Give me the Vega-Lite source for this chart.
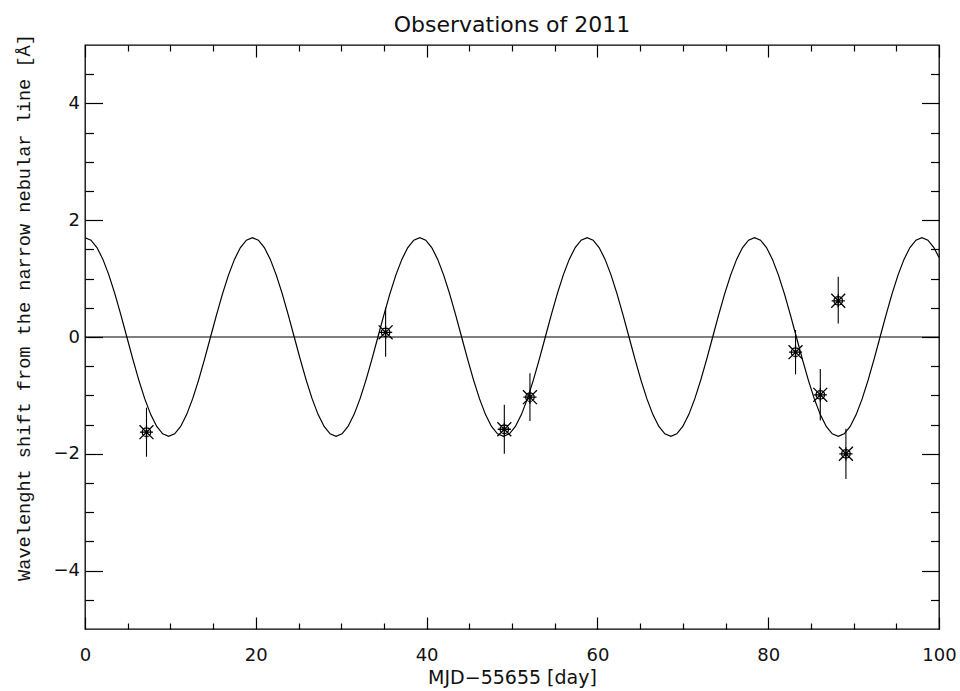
{
  "$schema": "https://vega.github.io/schema/vega-lite/v6.json",
  "width": 854,
  "height": 584,
  "autosize": "none",
  "padding": {"left": 85, "top": 45, "right": 21, "bottom": 62},
  "background": "white",
  "config": {
    "view": {"stroke": "black", "strokeWidth": 1.3},
    "axis": {"grid": false, "domain": false, "tickColor": "black", "tickWidth": 1.2, "labelColor": "#111", "titleColor": "#111", "labelFont": "DejaVu Sans", "labelFontSize": 18, "labelFlush": false, "labelOverlap": false}
  },
  "title": {"text": "Observations of 2011", "font": "DejaVu Sans", "fontSize": 22, "fontWeight": "normal", "color": "#111", "anchor": "middle", "offset": -3},
  "datasets": {
    "curve": [
      {"d":0,"w":1.7},{"d":0.7,"w":1.657},{"d":1.4,"w":1.532},{"d":2.1,"w":1.329},{"d":2.8,"w":1.06},{"d":3.5,"w":0.738},{"d":4.2,"w":0.378},{"d":4.9,"w":0},{"d":5.6,"w":-0.378},{"d":6.3,"w":-0.738},{"d":7,"w":-1.06},{"d":7.7,"w":-1.329},{"d":8.4,"w":-1.532},{"d":9.1,"w":-1.657},{"d":9.8,"w":-1.7},{"d":10.5,"w":-1.657},{"d":11.2,"w":-1.532},{"d":11.9,"w":-1.329},{"d":12.6,"w":-1.06},{"d":13.3,"w":-0.738},{"d":14,"w":-0.378},{"d":14.7,"w":0},{"d":15.4,"w":0.378},{"d":16.1,"w":0.738},{"d":16.8,"w":1.06},{"d":17.5,"w":1.329},{"d":18.2,"w":1.532},{"d":18.9,"w":1.657},
      {"d":19.6,"w":1.7},{"d":20.3,"w":1.657},{"d":21,"w":1.532},{"d":21.7,"w":1.329},{"d":22.4,"w":1.06},{"d":23.1,"w":0.738},{"d":23.8,"w":0.378},{"d":24.5,"w":0},{"d":25.2,"w":-0.378},{"d":25.9,"w":-0.738},{"d":26.6,"w":-1.06},{"d":27.3,"w":-1.329},{"d":28,"w":-1.532},{"d":28.7,"w":-1.657},{"d":29.4,"w":-1.7},{"d":30.1,"w":-1.657},{"d":30.8,"w":-1.532},{"d":31.5,"w":-1.329},{"d":32.2,"w":-1.06},{"d":32.9,"w":-0.738},{"d":33.6,"w":-0.378},{"d":34.3,"w":0},{"d":35,"w":0.378},{"d":35.7,"w":0.738},{"d":36.4,"w":1.06},{"d":37.1,"w":1.329},{"d":37.8,"w":1.532},{"d":38.5,"w":1.657},
      {"d":39.2,"w":1.7},{"d":39.9,"w":1.657},{"d":40.6,"w":1.532},{"d":41.3,"w":1.329},{"d":42,"w":1.06},{"d":42.7,"w":0.738},{"d":43.4,"w":0.378},{"d":44.1,"w":0},{"d":44.8,"w":-0.378},{"d":45.5,"w":-0.738},{"d":46.2,"w":-1.06},{"d":46.9,"w":-1.329},{"d":47.6,"w":-1.532},{"d":48.3,"w":-1.657},{"d":49,"w":-1.7},{"d":49.7,"w":-1.657},{"d":50.4,"w":-1.532},{"d":51.1,"w":-1.329},{"d":51.8,"w":-1.06},{"d":52.5,"w":-0.738},{"d":53.2,"w":-0.378},{"d":53.9,"w":0},{"d":54.6,"w":0.378},{"d":55.3,"w":0.738},{"d":56,"w":1.06},{"d":56.7,"w":1.329},{"d":57.4,"w":1.532},{"d":58.1,"w":1.657},
      {"d":58.8,"w":1.7},{"d":59.5,"w":1.657},{"d":60.2,"w":1.532},{"d":60.9,"w":1.329},{"d":61.6,"w":1.06},{"d":62.3,"w":0.738},{"d":63,"w":0.378},{"d":63.7,"w":0},{"d":64.4,"w":-0.378},{"d":65.1,"w":-0.738},{"d":65.8,"w":-1.06},{"d":66.5,"w":-1.329},{"d":67.2,"w":-1.532},{"d":67.9,"w":-1.657},{"d":68.6,"w":-1.7},{"d":69.3,"w":-1.657},{"d":70,"w":-1.532},{"d":70.7,"w":-1.329},{"d":71.4,"w":-1.06},{"d":72.1,"w":-0.738},{"d":72.8,"w":-0.378},{"d":73.5,"w":0},{"d":74.2,"w":0.378},{"d":74.9,"w":0.738},{"d":75.6,"w":1.06},{"d":76.3,"w":1.329},{"d":77,"w":1.532},{"d":77.7,"w":1.657},
      {"d":78.4,"w":1.7},{"d":79.1,"w":1.657},{"d":79.8,"w":1.532},{"d":80.5,"w":1.329},{"d":81.2,"w":1.06},{"d":81.9,"w":0.738},{"d":82.6,"w":0.378},{"d":83.3,"w":0},{"d":84,"w":-0.378},{"d":84.7,"w":-0.738},{"d":85.4,"w":-1.06},{"d":86.1,"w":-1.329},{"d":86.8,"w":-1.532},{"d":87.5,"w":-1.657},{"d":88.2,"w":-1.7},{"d":88.9,"w":-1.657},{"d":89.6,"w":-1.532},{"d":90.3,"w":-1.329},{"d":91,"w":-1.06},{"d":91.7,"w":-0.738},{"d":92.4,"w":-0.378},{"d":93.1,"w":0},{"d":93.8,"w":0.378},{"d":94.5,"w":0.738},{"d":95.2,"w":1.06},{"d":95.9,"w":1.329},{"d":96.6,"w":1.532},{"d":97.3,"w":1.657},
      {"d":98,"w":1.7},{"d":98.7,"w":1.657},{"d":99.4,"w":1.532},{"d":100,"w":1.363}
    ],
    "obs": [
      {"d":7.2,"w":-1.63,"lo":-2.05,"hi":-1.21},
      {"d":35.2,"w":0.08,"lo":-0.34,"hi":0.5},
      {"d":49.1,"w":-1.58,"lo":-2.0,"hi":-1.16},
      {"d":52.1,"w":-1.03,"lo":-1.44,"hi":-0.62},
      {"d":83.2,"w":-0.26,"lo":-0.64,"hi":0.12},
      {"d":86.1,"w":-0.99,"lo":-1.43,"hi":-0.55},
      {"d":88.2,"w":0.62,"lo":0.23,"hi":1.03},
      {"d":89.1,"w":-2.0,"lo":-2.43,"hi":-1.57}
    ],
    "zero": [{"d":0,"z":0},{"d":100,"z":0}]
  },
  "layer": [
    {
      "data": {"name": "curve"},
      "mark": {"type": "line", "color": "black", "strokeWidth": 1.2},
      "encoding": {
        "x": {"field": "d", "type": "quantitative", "scale": {"domain": [0, 100], "nice": false, "zero": false},
          "axis": {"orient": "bottom", "values": [0, 20, 40, 60, 80, 100], "tickSize": -12, "labelPadding": 29, "title": "MJD−55655 [day]", "titleFont": "DejaVu Sans", "titleFontSize": 19, "titleFontWeight": "normal", "titleX": 427, "titleY": 48, "titleBaseline": "middle", "titleAlign": "center"}},
        "y": {"field": "w", "type": "quantitative", "scale": {"domain": [-5, 5], "nice": false, "zero": false},
          "axis": {"orient": "left", "values": [-4, -2, 0, 2, 4], "tickSize": -17.5, "labelPadding": 23, "title": "Wavelenght shift from the narrow nebular line [Å]", "titleFont": "Liberation Mono", "titleFontSize": 18.6, "titleFontWeight": "normal", "titleX": -62, "titleY": 262, "titleBaseline": "middle", "titleAlign": "center", "titleAngle": 270}}
      }
    },
    {
      "data": {"name": "zero"},
      "mark": {"type": "line", "color": "black", "strokeWidth": 1.2},
      "encoding": {
        "x": {"field": "d", "type": "quantitative", "axis": {"orient": "bottom", "values": [5, 10, 15, 25, 30, 35, 45, 50, 55, 65, 70, 75, 85, 90, 95], "tickSize": -6, "labels": false, "title": null}},
        "y": {"field": "z", "type": "quantitative", "axis": {"orient": "left", "values": [-4.5, -3.5, -3, -2.5, -1.5, -1, -0.5, 0.5, 1, 1.5, 2.5, 3, 3.5, 4.5], "tickSize": -8.5, "labels": false, "title": null}}
      }
    },
    {
      "data": {"name": "obs"},
      "mark": {"type": "rule", "color": "black", "strokeWidth": 1.1},
      "encoding": {
        "x": {"field": "d", "type": "quantitative", "axis": {"orient": "top", "values": [0, 20, 40, 60, 80, 100], "tickSize": -12, "labels": false, "title": null}},
        "y": {"field": "lo", "type": "quantitative", "axis": {"orient": "right", "values": [-4, -2, 0, 2, 4], "tickSize": -17.5, "labels": false, "title": null}},
        "y2": {"field": "hi"}
      }
    },
    {
      "data": {"name": "obs"},
      "mark": {"type": "point", "filled": false, "stroke": "black", "strokeWidth": 1.3, "opacity": 1, "size": 240,
        "shape": "M-0.9,-0.9L0.9,0.9M-0.9,0.9L0.9,-0.9M-0.85,0L0.85,0M0,-0.85L0,0.85M0.55,0A0.55,0.55 0 1,1 -0.55,0A0.55,0.55 0 1,1 0.55,0Z"},
      "encoding": {
        "x": {"field": "d", "type": "quantitative", "axis": {"orient": "top", "values": [5, 10, 15, 25, 30, 35, 45, 50, 55, 65, 70, 75, 85, 90, 95], "tickSize": -6, "labels": false, "title": null}},
        "y": {"field": "w", "type": "quantitative", "axis": {"orient": "right", "values": [-4.5, -3.5, -3, -2.5, -1.5, -1, -0.5, 0.5, 1, 1.5, 2.5, 3, 3.5, 4.5], "tickSize": -8.5, "labels": false, "title": null}}
      }
    }
  ],
  "resolve": {"axis": {"x": "independent", "y": "independent"}}
}
